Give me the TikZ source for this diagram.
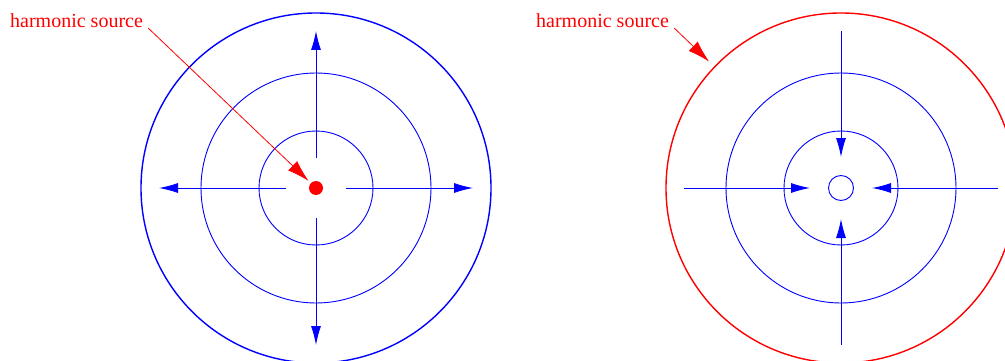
\documentclass[tikz,border=0pt]{standalone}
\usepackage{fontspec}
\setmainfont{Liberation Serif}
\usetikzlibrary{arrows.meta}
\begin{document}
\begin{tikzpicture}[x=1pt,y=-1pt,font=\fontsize{20}{24}\selectfont,
  wave/.style={blue,line width=0.9pt},
  ray/.style={blue,line width=0.9pt,-{Latex[length=19pt,width=10pt]}},
  pointer/.style={red,line width=0.8pt,-{Latex[length=22pt,width=13pt]}}]
  \clip (0,0) rectangle (1005,361);
  % outgoing waves
  \coordinate (cL) at (316,188);
  \draw[blue,line width=1.4pt] (cL) circle[radius=175];
  \draw[wave] (cL) circle[radius=115] (cL) circle[radius=57];
  \foreach \a in {0,90,180,270}
    \draw[ray] ([shift={(\a:30)}]cL) -- ([shift={(\a:157)}]cL);
  \node[circle,fill=red,inner sep=0pt,minimum size=14pt] (srcL) at (cL) {};
  \node[red,anchor=base west,inner sep=0pt] (lblL) at (10,28) {harmonic source};
  \draw[pointer,shorten >=3pt] ([xshift=5pt]lblL.base east) -- (srcL);
  % incoming waves
  \coordinate (cR) at (841,188);
  \node[circle,draw=red,line width=1.4pt,inner sep=0pt,minimum size=350pt] (rimR) at (cR) {};
  \draw[wave] (cR) circle[radius=115] (cR) circle[radius=57] (cR) circle[radius=12.5];
  \foreach \a in {0,90,180,270}
    \draw[ray] ([shift={(\a:157)}]cR) -- ([shift={(\a:31)}]cR);
  \node[red,anchor=base west,inner sep=0pt] (lblR) at (536,28) {harmonic source};
  \draw[pointer,shorten >=7pt] ([xshift=5pt]lblR.base east) -- (rimR);
\end{tikzpicture}
\end{document}
